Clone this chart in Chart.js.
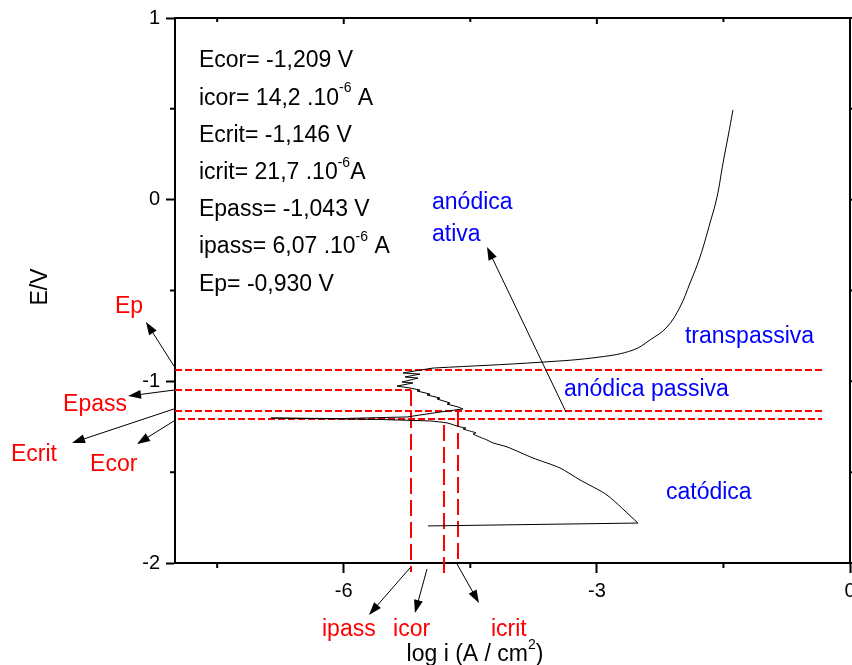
<!DOCTYPE html>
<html>
<head>
<meta charset="utf-8">
<script src="https://cdn.jsdelivr.net/npm/chart.js@4"></script>
<style>
  body { margin: 0; background: #fff; }
  canvas { display: block; }
</style>
</head>
<body>
<canvas id="myChart" width="852" height="665" style="width:852px;height:665px"></canvas>
<script>
// polarization curve, log i (A/cm2) vs E (V), split in sweep segments
const startLogI = [-5.001, -2.513];
const startE = [-1.796, -1.780];
const cathodicLogI = [
  -2.513, -2.880, -3.200, -3.437, -3.757, -4.065, -4.231, -4.302, -4.468,
  -4.433, -4.587, -4.551, -4.622, -4.776, -4.978
];
const cathodicE = [
  -1.780, -1.626, -1.543, -1.477, -1.422, -1.361, -1.339, -1.323, -1.290,
  -1.284, -1.262, -1.257, -1.251, -1.229, -1.218
];
const passiveLogI = [
  -4.978, -5.570, -6.862, -6.044, -5.250, -4.859, -4.587, -4.646, -4.776, -4.741,
  -4.895, -4.859, -5.013, -4.978, -5.132, -5.096, -5.215, -5.369, -5.179, -5.310,
  -5.120, -5.274, -5.096, -5.298, -5.096, -4.942
];
const passiveE = [
  -1.218, -1.210, -1.202, -1.205, -1.196, -1.169, -1.152, -1.141, -1.125, -1.119,
  -1.097, -1.092, -1.075, -1.070, -1.053, -1.048, -1.037, -1.026, -1.009, -1.004,
  -0.982, -0.976, -0.960, -0.954, -0.938, -0.927
];
const transLogI = [
  -4.942, -3.639, -2.963, -2.572, -2.370, -2.169, -2.015, -1.896, -1.778, -1.659,
  -1.576, -1.505, -1.446, -1.387
];
const transE = [
  -0.927, -0.894, -0.866, -0.828, -0.772, -0.701, -0.591, -0.459, -0.316, -0.128,
  0.015, 0.202, 0.345, 0.494
];

// characteristic potentials (horizontal dashed lines)
const eNames = ["Ep", "Epass", "Ecrit", "Ecor"];
const eValues = [-0.938, -1.048, -1.163, -1.207];
const eLineStart = [-8, -8, -8, -7.964];
const eLineEnd = [-0.33, -5.203, -0.33, -0.33];

// characteristic currents (vertical dashed lines)
const iNames = ["ipass", "icor", "icrit"];
const iValues = [-5.203, -4.812, -4.646];
const iLineTop = [-1.048, -1.240, -1.163];
const iLineBottom = [-2.050, -2.077, -2.005];

const xTicks = [-6, -3, 0];
const xMinorTicks = [-7.5, -4.5, -1.5];
const yTicks = [1, 0, -1, -2];
const yMinorTicks = [0.5, -0.5, -1.5];

const infoLines = [
  [["Ecor= -1,209 V"]],
  [["icor= 14,2 .10"], ["-6", 1], [" A"]],
  [["Ecrit= -1,146 V"]],
  [["icrit= 21,7 .10"], ["-6", 1], ["A"]],
  [["Epass= -1,043 V"]],
  [["ipass= 6,07 .10"], ["-6", 1], [" A"]],
  [["Ep= -0,930 V"]]
];

// label anchors in data units: [logI, E]
const eLabelPos = [[-8.711, -0.591], [-9.327, -1.130], [-9.944, -1.405], [-9.007, -1.461]];
const eArrows = [
  [-8.012, -0.916, -8.344, -0.673],
  [-8.012, -1.048, -8.557, -1.081],
  [-8.012, -1.152, -9.221, -1.339],
  [-8.012, -1.218, -8.450, -1.345]
];
const iLabelPos = [[-6.258, -2.369], [-5.416, -2.369], [-4.255, -2.369]];
const iArrows = [
  [-5.215, -2.027, -5.701, -2.286],
  [-5.013, -2.033, -5.156, -2.275],
  [-4.658, -2.005, -4.397, -2.220]
];
const regionLabels = [
  ["anódica", -4.954, -0.018],
  ["ativa", -4.954, -0.194],
  ["anódica passiva", -3.390, -1.048],
  ["transpassiva", -1.956, -0.756],
  ["catódica", -2.181, -1.615]
];
const ativaArrow = [-3.366, -1.169, -4.302, -0.261];

const FONT = '"Liberation Sans", Arial, sans-serif';
const RED = "#ff0000";
const BLUE = "#0000ff";

function toPoints(xs, ys) {
  return xs.map((x, i) => ({ x: x, y: ys[i] }));
}

function curve(xs, ys, tension) {
  return {
    data: toPoints(xs, ys),
    showLine: true,
    borderColor: "#000",
    borderWidth: 1,
    pointRadius: 0,
    tension: tension,
    order: 0
  };
}

const datasets = [
  curve(startLogI, startE, 0),
  curve(cathodicLogI, cathodicE, 0.25),
  curve(passiveLogI, passiveE, 0),
  curve(transLogI, transE, 0.4)
];
eValues.forEach((e, i) => {
  datasets.push({
    data: [{ x: eLineStart[i], y: e }, { x: eLineEnd[i], y: e }],
    showLine: true,
    borderColor: RED,
    borderWidth: 2,
    borderDash: [7, 3],
    pointRadius: 0,
    order: 1
  });
});
iValues.forEach((v, i) => {
  datasets.push({
    data: [{ x: v, y: iLineTop[i] }, { x: v, y: iLineBottom[i] }],
    showLine: true,
    borderColor: RED,
    borderWidth: 2,
    borderDash: [16, 6],
    pointRadius: 0,
    clip: false,
    order: 1
  });
});

function drawArrow(ctx, x1, y1, x2, y2) {
  const ang = Math.atan2(y2 - y1, x2 - x1);
  const len = 13, half = 4.5;
  ctx.beginPath();
  ctx.moveTo(x1, y1);
  ctx.lineTo(x2 - Math.cos(ang) * len * 0.8, y2 - Math.sin(ang) * len * 0.8);
  ctx.stroke();
  ctx.beginPath();
  ctx.moveTo(x2, y2);
  ctx.lineTo(x2 - Math.cos(ang) * len - Math.sin(ang) * half, y2 - Math.sin(ang) * len + Math.cos(ang) * half);
  ctx.lineTo(x2 - Math.cos(ang) * len + Math.sin(ang) * half, y2 - Math.sin(ang) * len - Math.cos(ang) * half);
  ctx.closePath();
  ctx.fill();
}

function drawRich(ctx, parts, x, y, size) {
  let cx = x;
  parts.forEach(p => {
    if (p[1]) {
      ctx.font = Math.round(size * 0.6) + "px " + FONT;
      ctx.fillText(p[0], cx, y - size * 0.42);
    } else {
      ctx.font = size + "px " + FONT;
      ctx.fillText(p[0], cx, y);
    }
    cx += ctx.measureText(p[0]).width;
  });
  return cx - x;
}

const annotations = {
  id: "annotations",
  afterDraw(chart) {
    const ctx = chart.ctx;
    const xs = chart.scales.x, ys = chart.scales.y;
    const px = v => xs.getPixelForValue(v);
    const py = v => ys.getPixelForValue(v);
    const a = chart.chartArea;
    ctx.save();

    // frame: top and right axes
    ctx.strokeStyle = "#000";
    ctx.lineWidth = 2;
    ctx.beginPath();
    ctx.moveTo(a.left - 1, a.top);
    ctx.lineTo(a.right, a.top);
    ctx.moveTo(a.right, a.top);
    ctx.lineTo(a.right, a.bottom + 1);
    ctx.stroke();

    ctx.beginPath();
    xMinorTicks.forEach(v => {
      ctx.moveTo(px(v), a.bottom); ctx.lineTo(px(v), a.bottom + 5);
      ctx.moveTo(px(v), a.top); ctx.lineTo(px(v), a.top + 4);
    });
    xTicks.forEach(v => {
      ctx.moveTo(px(v), a.top); ctx.lineTo(px(v), a.top + 6);
    });
    yMinorTicks.forEach(v => {
      ctx.moveTo(a.left, py(v)); ctx.lineTo(a.left - 5, py(v));
      ctx.moveTo(a.right, py(v)); ctx.lineTo(a.right + 4, py(v));
    });
    yTicks.forEach(v => {
      ctx.moveTo(a.right, py(v)); ctx.lineTo(a.right + 6, py(v));
    });
    ctx.stroke();

    // arrows
    ctx.fillStyle = "#000";
    ctx.lineWidth = 1;
    eArrows.concat(iArrows, [ativaArrow]).forEach(r => {
      drawArrow(ctx, px(r[0]), py(r[1]), px(r[2]), py(r[3]));
    });

    ctx.textBaseline = "middle";
    ctx.textAlign = "left";

    // info block
    ctx.fillStyle = "#000";
    const bx = px(-7.716), by = py(0.763);
    infoLines.forEach((parts, i) => drawRich(ctx, parts, bx, by + i * 37.2, 23));

    // red labels
    ctx.fillStyle = RED;
    ctx.font = "23px " + FONT;
    eNames.forEach((n, i) => ctx.fillText(n, px(eLabelPos[i][0]), py(eLabelPos[i][1])));
    iNames.forEach((n, i) => ctx.fillText(n, px(iLabelPos[i][0]), py(iLabelPos[i][1])));

    // region labels
    ctx.fillStyle = BLUE;
    ctx.font = "23px " + FONT;
    regionLabels.forEach(r => ctx.fillText(r[0], px(r[1]), py(r[2])));

    // axis titles
    ctx.fillStyle = "#000";
    const title = [["log i (A / cm"], ["2", 1], [")"]];
    let w = 0;
    title.forEach(p => {
      ctx.font = (p[1] ? 14 : 23) + "px " + FONT;
      w += ctx.measureText(p[0]).width;
    });
    drawRich(ctx, title, 475 - w / 2, 655, 23);

    ctx.save();
    ctx.translate(41, 287);
    ctx.rotate(-Math.PI / 2);
    ctx.textAlign = "center";
    ctx.font = "23px " + FONT;
    ctx.fillText("E/V", 0, 0);
    ctx.restore();

    ctx.restore();
  }
};

const ctx = document.getElementById("myChart").getContext("2d");
new Chart(ctx, {
  type: "scatter",
  data: { datasets: datasets },
  options: {
    responsive: false,
    animation: false,
    layout: { padding: { top: 18, right: 2, left: 0, bottom: 0 } },
    plugins: {
      legend: { display: false },
      tooltip: { enabled: false }
    },
    scales: {
      x: {
        type: "linear",
        min: -8,
        max: 0,
        afterBuildTicks: s => { s.ticks = xTicks.map(v => ({ value: v })); },
        afterFit: s => { s.height = 102; s.paddingLeft = 0; s.paddingRight = 0; },
        ticks: {
          color: "#000",
          font: { family: FONT, size: 20 },
          padding: 6,
          maxRotation: 0,
          autoSkip: false,
          callback: v => String(v)
        },
        grid: { drawOnChartArea: false, tickLength: 10, tickWidth: 2, tickColor: "#000" },
        border: { color: "#000", width: 2 }
      },
      y: {
        type: "linear",
        min: -2,
        max: 1,
        afterBuildTicks: s => { s.ticks = yTicks.map(v => ({ value: v })); },
        afterFit: s => { s.width = 175; s.paddingTop = 0; s.paddingBottom = 0; },
        ticks: {
          color: "#000",
          font: { family: FONT, size: 20 },
          padding: 6,
          autoSkip: false,
          callback: v => String(v)
        },
        grid: { drawOnChartArea: false, tickLength: 9, tickWidth: 2, tickColor: "#000" },
        border: { color: "#000", width: 2 }
      }
    }
  },
  plugins: [annotations]
});
</script>
</body>
</html>
